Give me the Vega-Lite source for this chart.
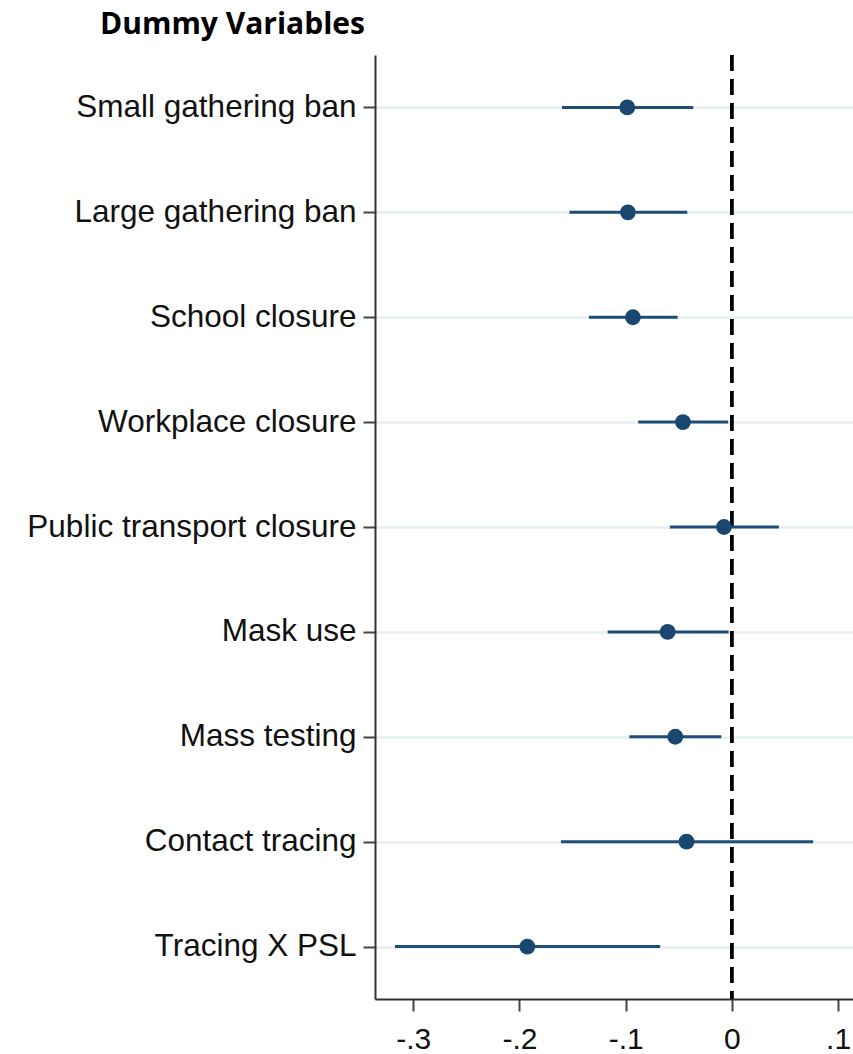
{
  "$schema": "https://vega.github.io/schema/vega-lite/v6.json",
  "width": 478,
  "height": 944,
  "autosize": {"type": "none"},
  "padding": {"left": 375, "top": 55, "right": 0, "bottom": 55},
  "background": "white",
  "title": {
    "text": "Dummy Variables",
    "font": "Open Sans",
    "fontWeight": "bold",
    "fontSize": 30,
    "color": "#000000",
    "anchor": "start",
    "frame": "group",
    "dx": -275,
    "offset": 14
  },
  "config": {"view": {"stroke": null}},
  "data": {
    "values": [
      {"term": "Small gathering ban", "coef": -0.0985, "lo": -0.160, "hi": -0.0364},
      {"term": "Large gathering ban", "coef": -0.0979, "lo": -0.153, "hi": -0.042},
      {"term": "School closure", "coef": -0.0932, "lo": -0.1346, "hi": -0.0511},
      {"term": "Workplace closure", "coef": -0.0461, "lo": -0.0882, "hi": -0.0035},
      {"term": "Public transport closure", "coef": -0.0075, "lo": -0.0584, "hi": 0.0442},
      {"term": "Mask use", "coef": -0.0605, "lo": -0.117, "hi": -0.0031},
      {"term": "Mass testing", "coef": -0.0533, "lo": -0.0966, "hi": -0.0100},
      {"term": "Contact tracing", "coef": -0.0427, "lo": -0.161, "hi": 0.0765},
      {"term": "Tracing X PSL", "coef": -0.1926, "lo": -0.3172, "hi": -0.0675}
    ]
  },
  "encoding": {
    "y": {
      "field": "term",
      "type": "nominal",
      "sort": null,
      "scale": {"type": "point", "padding": 0.5},
      "axis": {
        "title": null,
        "labelFont": "Liberation Sans",
        "labelFontSize": 31.5,
        "labelLimit": 0,
        "labelColor": "#111111",
        "labelPadding": 7,
        "tickSize": 12,
        "tickWidth": 2,
        "tickColor": "#444444",
        "domainColor": "#333333",
        "domainWidth": 2,
        "grid": true,
        "gridColor": "#e9f1f3",
        "gridWidth": 3
      }
    }
  },
  "layer": [
    {
      "mark": {"type": "rule", "color": "#000000", "strokeWidth": 2.5, "strokeDash": [16, 8]},
      "encoding": {
        "x": {"datum": 0, "type": "quantitative"},
        "y": null
      }
    },
    {
      "mark": {"type": "rule", "color": "#1f4d78", "strokeWidth": 3},
      "encoding": {
        "x": {
          "field": "lo",
          "type": "quantitative",
          "scale": {"domain": [-0.336, 0.114], "nice": false, "zero": false},
          "axis": {
            "title": null,
            "values": [-0.3, -0.2, -0.1, 0, 0.1],
            "labelExpr": "datum.value == 0 ? '0' : (datum.value < 0 ? '-' : '') + replace(format(abs(datum.value), '.1f'), '0.', '.')",
            "labelFont": "Liberation Sans",
            "labelFontSize": 30,
            "labelColor": "#111111",
            "labelPadding": 13,
            "tickSize": 12,
            "tickWidth": 2,
            "tickColor": "#444444",
            "domainColor": "#333333",
            "domainWidth": 2,
            "grid": false
          }
        },
        "x2": {"field": "hi"}
      }
    },
    {
      "mark": {"type": "point", "filled": true, "size": 250, "opacity": 1, "color": "#1a476f"},
      "encoding": {
        "x": {"field": "coef", "type": "quantitative"}
      }
    }
  ]
}
